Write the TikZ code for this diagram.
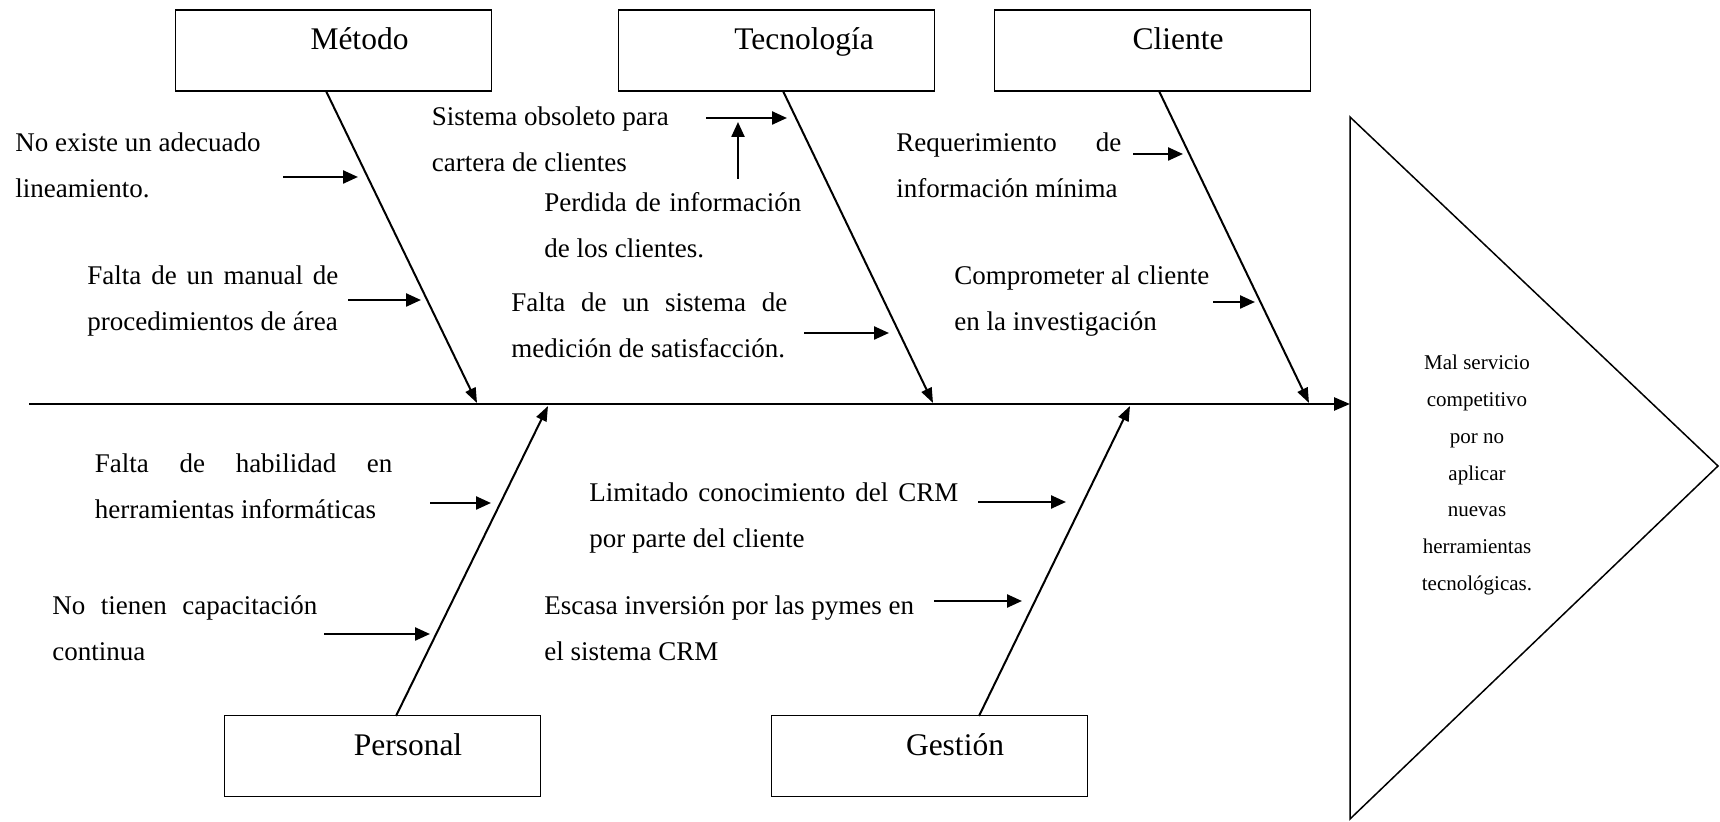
\documentclass[tikz,border=0pt]{standalone}
\usepackage{fontspec}
\setmainfont{Liberation Serif}
\usetikzlibrary{arrows.meta}
\newcommand{\TwoL}[2]{\vtop{\baselineskip=23pt\hbox{#1}\hbox{#2}}}
\newcommand{\JusL}[3]{\vtop{\baselineskip=23pt\hbox to #1{#2}\hbox{#3}}}
\newcommand{\CenL}[1]{\hbox to 0pt{\hss#1\hss}}
\begin{document}
\begin{tikzpicture}[x=0.5pt,y=-0.5pt,
  box/.style={draw, line width=0.75pt, minimum width=158pt, minimum height=40.5pt, inner sep=0pt},
  boxlabel/.style={font=\fontsize{15.75pt}{18pt}\selectfont, inner sep=0pt, anchor=base},
  cause/.style={font=\fontsize{13.5pt}{23pt}\selectfont, inner sep=0pt, anchor=base west},
  effect/.style={font=\fontsize{10.5pt}{18.35pt}\selectfont, inner sep=0pt, anchor=base},
  bone/.style={line width=1pt, -{Triangle[length=7.5pt,width=5.5pt]}},
  subarrow/.style={line width=1.2pt, -{Triangle[length=7.5pt,width=6.5pt]}},
  spinestyle/.style={line width=1.3pt, -{Triangle[length=8pt,width=6.5pt]}},
  headshape/.style={line width=0.75pt}
]
\useasboundingbox (0,0) rectangle (1720,822);

% category boxes
\node[box] (metodo) at (333.5,50.5) {};
\node[boxlabel] (metodoT) at (359.5,50) {Método};
\node[box] (tecno) at (776.5,50.5) {};
\node[boxlabel] (tecnoT) at (804,50) {Tecnología};
\node[box] (cliente) at (1152.5,50.5) {};
\node[boxlabel] (clienteT) at (1178,50) {Cliente};
\node[box] (personal) at (382.5,756) {};
\node[boxlabel] (personalT) at (408,756) {Personal};
\node[box] (gestion) at (929.5,756) {};
\node[boxlabel] (gestionT) at (955,756) {Gestión};

% spine and effect
\coordinate (spineStart) at (29,404);
\coordinate (effIn) at (1350,404);
\draw[spinestyle] (spineStart) -- (effIn);
\coordinate (tA) at (1350,117);
\coordinate (tB) at (1350,819);
\coordinate (tC) at (1718,466);
\draw[headshape] (tA) -- (tB) -- (tC) -- cycle;
\node[effect] (efecto) at (1477,370) {\vtop{\baselineskip=18.35pt
  \CenL{Mal servicio}\CenL{competitivo}\CenL{por no}\CenL{aplicar}\CenL{nuevas}\CenL{herramientas}\CenL{tecnológicas.}}};

% bones
\coordinate (metodoS) at (326,91);   \coordinate (metodoE) at (477,403);
\coordinate (tecnoS) at (783,91);    \coordinate (tecnoE) at (933,403);
\coordinate (clienteS) at (1159,91); \coordinate (clienteE) at (1309,403);
\coordinate (personalS) at (396,716); \coordinate (personalE) at (548,406);
\coordinate (gestionS) at (979,716);  \coordinate (gestionE) at (1130,406);
\draw[bone] (metodoS) -- (metodoE);
\draw[bone] (tecnoS) -- (tecnoE);
\draw[bone] (clienteS) -- (clienteE);
\draw[bone] (personalS) -- (personalE);
\draw[bone] (gestionS) -- (gestionE);

% causes
\node[cause] (c1) at (15,151.5) {\TwoL{No existe un adecuado}{lineamiento.}};
\node[cause] (c2) at (87,284.5) {\JusL{125.5pt}{Falta de un manual de}{procedimientos de área}};
\node[cause] (c3) at (431.5,126) {\TwoL{Sistema obsoleto para}{cartera de clientes}};
\node[cause] (c4) at (544,211.5) {\JusL{128.5pt}{Perdida de información}{de los clientes.}};
\node[cause] (c5) at (511,311.5) {\JusL{138pt}{Falta de un sistema de}{medición de satisfacción.}};
\node[cause] (c6) at (896,151.5) {\JusL{112.5pt}{Requerimiento de}{información mínima}};
\node[cause] (c7) at (954,284.5) {\TwoL{Comprometer al cliente}{en la investigación}};
\node[cause] (c8) at (94.5,472.5) {\JusL{148.75pt}{Falta de habilidad en}{herramientas informáticas}};
\node[cause] (c9) at (52,614.5) {\JusL{132.5pt}{No tienen capacitación}{continua}};
\node[cause] (c10) at (589,501.5) {\JusL{184.5pt}{Limitado conocimiento del CRM}{por parte del cliente}};
\node[cause] (c11) at (544,614.5) {\TwoL{Escasa inversión por las pymes en}{el sistema CRM}};

% cause arrows
\coordinate (a1s) at (283,177);  \coordinate (a1e) at (358,177);
\coordinate (a2s) at (348,300);  \coordinate (a2e) at (421,300);
\coordinate (a3s) at (706,118);  \coordinate (a3e) at (787,118);
\coordinate (a4s) at (738,179);  \coordinate (a4e) at (738,122);
\coordinate (a5s) at (804,333);  \coordinate (a5e) at (889,333);
\coordinate (a6s) at (1133,154); \coordinate (a6e) at (1183,154);
\coordinate (a7s) at (1213,302); \coordinate (a7e) at (1255,302);
\coordinate (a8s) at (430,503);  \coordinate (a8e) at (491,503);
\coordinate (a9s) at (324,634);  \coordinate (a9e) at (430,634);
\coordinate (a10s) at (978,502); \coordinate (a10e) at (1066,502);
\coordinate (a11s) at (934,601); \coordinate (a11e) at (1022,601);
\foreach \i in {1,...,11} {\draw[subarrow] (a\i s) -- (a\i e);}
\end{tikzpicture}
\end{document}
